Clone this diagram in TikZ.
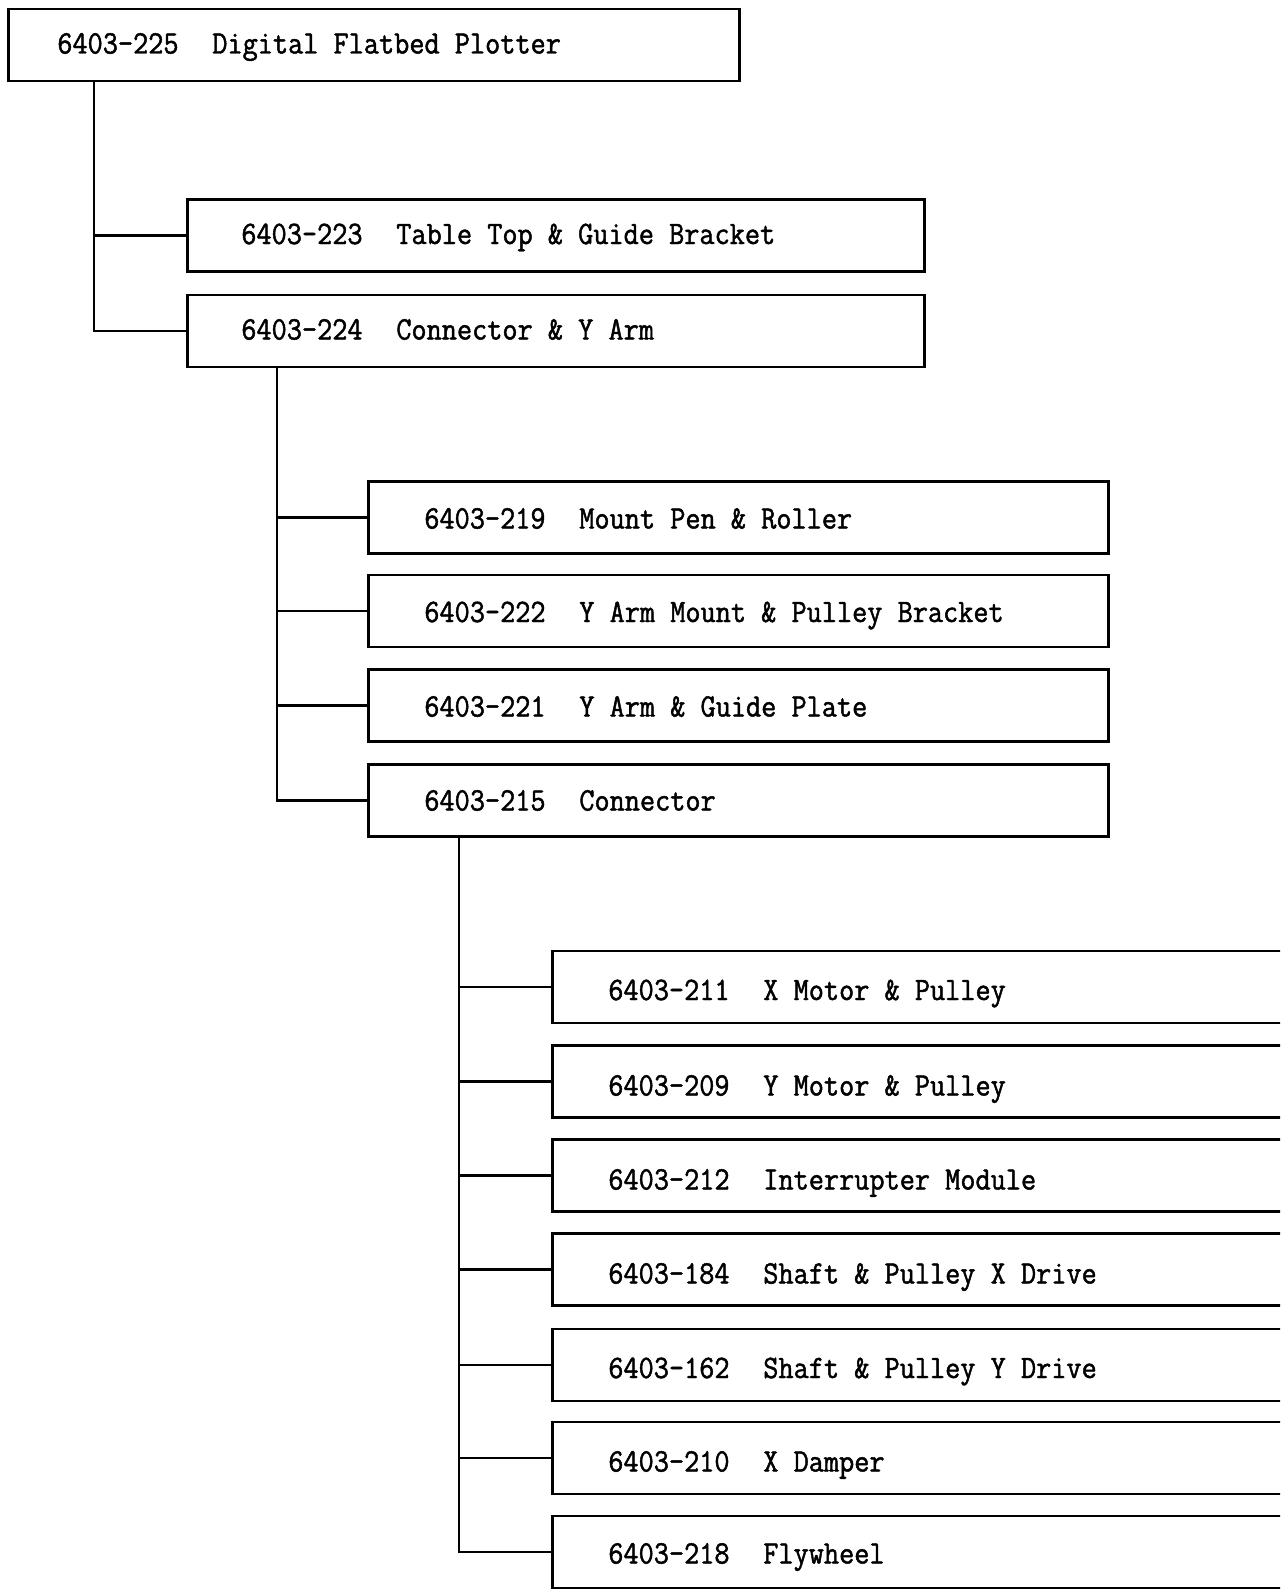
\documentclass[tikz,border=0pt]{standalone}
\usepackage{fontspec}
\newfontfamily\tw{Latin Modern Mono}[FakeStretch=0.90,FakeBold=1.4]
\newcommand{\twfont}{\tw\fontsize{32.7}{34}\selectfont
  \fontdimen2\font=\fontcharwd\font`0\relax
  \fontdimen3\font=0pt\relax\fontdimen4\font=0pt\relax}
\begin{document}
\begin{tikzpicture}[x=1pt,y=-1pt,
  box/.style={draw,line width=2.7pt,rectangle,minimum height=72pt,inner ysep=0pt,
    text height=21pt,text depth=7pt,
    inner xsep=#1,anchor=west,font=\twfont},
  box/.default=55pt,
  link/.style={line width=2.5pt}]
\clip (0,0) rectangle (1280,1590);
\fill[white] (0,0) rectangle (1280,1590);
\newcommand{\itm}[4]{\raisebox{#4}{\makebox[#1][l]{\makebox[155pt][l]{#2}#3}}}
% level 1
\node[box=49pt] (p225) at (7,45) {\itm{633pt}{6403-225}{Digital Flatbed Plotter}{-1.5pt}};
% level 2
\node[box=54pt] (p223) at (186,235.5) {\itm{629pt}{6403-223}{Table Top \& Guide Bracket}{-1.5pt}};
\node[box=54pt] (p224) at (186,331) {\itm{629pt}{6403-224}{Connector \& Y Arm}{-1.5pt}};
% level 3
\node[box=56pt] (p219) at (367,517.5) {\itm{628pt}{6403-219}{Mount Pen \& Roller}{-4pt}};
\node[box=56pt] (p222) at (367,611) {\itm{628pt}{6403-222}{Y Arm Mount \& Pulley Bracket}{-4pt}};
\node[box=56pt] (p221) at (367,705.5) {\itm{628pt}{6403-221}{Y Arm \& Guide Plate}{-4pt}};
\node[box=56pt] (p215) at (367,800.5) {\itm{628pt}{6403-215}{Connector}{-3pt}};
% level 4
\node[box=56pt] (p211) at (551,987) {\itm{650pt}{6403-211}{X Motor \& Pulley}{-6pt}};
\node[box=56pt] (p209) at (551,1081.5) {\itm{650pt}{6403-209}{Y Motor \& Pulley}{-7pt}};
\node[box=56pt] (p212) at (551,1175.5) {\itm{650pt}{6403-212}{Interrupter Module}{-7pt}};
\node[box=56pt] (p184) at (551,1269.5) {\itm{650pt}{6403-184}{Shaft \& Pulley X Drive}{-7pt}};
\node[box=56pt] (p162) at (551,1365) {\itm{650pt}{6403-162}{Shaft \& Pulley Y Drive}{-6pt}};
\node[box=56pt] (p210) at (551,1458) {\itm{650pt}{6403-210}{X Damper}{-6.5pt}};
\node[box=56pt] (p218) at (551,1552) {\itm{650pt}{6403-218}{Flywheel}{-4.5pt}};
% connectors
\foreach \c in {p223,p224}
  \draw[link] ([xshift=87pt]p225.south west) |- (\c.west);
\foreach \c in {p219,p222,p221,p215}
  \draw[link] ([xshift=91pt]p224.south west) |- (\c.west);
\foreach \c in {p211,p209,p212,p184,p162,p210,p218}
  \draw[link] ([xshift=92pt]p215.south west) |- (\c.west);
\end{tikzpicture}
\end{document}
